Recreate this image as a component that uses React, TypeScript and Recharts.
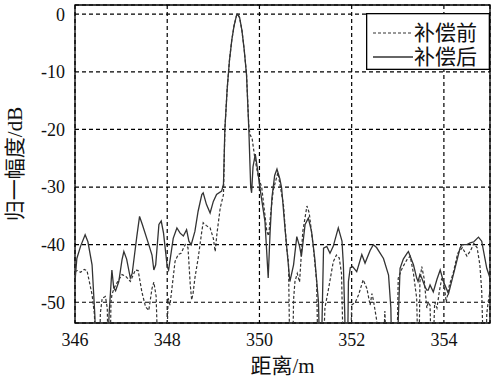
import React from "react";
import { LineChart, Line, XAxis, YAxis, CartesianGrid, ReferenceArea, Legend } from "recharts";

const FONT = "Liberation Serif, Noto Sans CJK SC, serif";
const NUM_FONT = "Liberation Serif";

const xTicks = [346, 348, 350, 352, 354];
const yTicks = [0, -10, -20, -30, -40, -50];
const seriesNames = ["补偿前", "补偿后"];
const xLabel = "距离/m";
const yLabel = "归一幅度/dB";

// main lobe shared by both curves
const lobeX = [349.25, 349.3, 349.35, 349.4, 349.45, 349.5, 349.53, 349.57, 349.62, 349.67, 349.72, 349.77];
const lobeY = [-20, -13, -8, -4.5, -2, -0.3, 0, -0.6, -2.8, -6.2, -10.5, -20];

// 补偿后 (solid)
const afterLeftX = [346.0, 346.04, 346.12, 346.22, 346.28, 346.37, 346.43, 346.46, 346.7, 346.74, 346.77, 346.8, 346.84, 346.88, 346.95, 347.02, 347.06, 347.12, 347.2, 347.24, 347.34, 347.4, 347.46, 347.6, 347.67, 347.71, 347.75, 347.82, 347.87, 347.92, 348.0, 348.03, 348.13, 348.21, 348.28, 348.35, 348.42, 348.47, 348.52, 348.6, 348.67, 348.75, 348.78, 348.85, 348.93, 349.0, 349.07, 349.18, 349.22];
const afterLeftY = [-46.4, -42.4, -40.3, -38.3, -39.5, -43.5, -52.2, -60, -60, -52, -48.2, -44.4, -47.5, -48, -46.4, -42.6, -41.2, -42.5, -45.8, -45, -38.6, -35.1, -36.5, -40, -41.8, -44.4, -43.5, -36.5, -35.9, -38, -43.8, -44.4, -38.9, -37.1, -38, -38.5, -37.4, -39.4, -40, -37.7, -34.2, -31.3, -31, -33, -34.5, -32.5, -31.3, -30.7, -29.5];
const afterRightX = [349.81, 349.83, 349.86, 349.91, 349.96, 350.01, 350.12, 350.19, 350.23, 350.27, 350.33, 350.38, 350.44, 350.48, 350.56, 350.66, 350.74, 350.81, 350.87, 350.91, 350.99, 351.06, 351.13, 351.2, 351.28, 351.31, 351.34, 351.39, 351.46, 351.53, 351.6, 351.71, 351.79, 351.82, 351.85, 351.87, 351.91, 351.93, 351.97, 352.02, 352.11, 352.22, 352.29, 352.4, 352.47, 352.54, 352.69, 352.8, 352.85, 352.87, 352.98, 353.05, 353.12, 353.2, 353.23, 353.34, 353.41, 353.44, 353.48, 353.52, 353.59, 353.63, 353.66, 353.7, 353.77, 353.85, 353.92, 353.99, 354.1, 354.24, 354.35, 354.39, 354.5, 354.57, 354.65, 354.75, 354.82, 354.93, 355.0];
const afterRightY = [-30, -31, -26.5, -24.3, -27, -30.1, -36, -45.8, -38, -31.9, -28, -26.9, -28.5, -30.1, -37.7, -46.4, -43.5, -38.6, -40.3, -42, -36.5, -35.4, -37.7, -42.4, -49.9, -60, -60, -40.6, -40.3, -41.5, -40.3, -37.1, -39.4, -43.5, -52, -60, -60, -46.4, -44, -43.8, -44.7, -41.7, -43.2, -41, -40, -40.5, -42.4, -45.3, -51, -60, -60, -44.1, -42.5, -41.5, -41.2, -43.5, -45.8, -46.4, -45.2, -45.8, -47.3, -47.9, -47.9, -47, -48.2, -46, -44.4, -46.4, -48.5, -44.1, -40.6, -40, -40, -39.7, -39.5, -38.7, -39.4, -44.1, -45.8];

// 补偿前 (dotted)
const beforeLeftX = [346.0, 346.05, 346.12, 346.2, 346.26, 346.3, 346.37, 346.42, 346.46, 346.53, 346.55, 346.59, 346.66, 346.7, 346.72, 346.76, 346.78, 346.8, 346.85, 346.92, 347.02, 347.1, 347.2, 347.31, 347.37, 347.45, 347.53, 347.6, 347.67, 347.71, 347.76, 347.8, 347.98, 348.02, 348.06, 348.17, 348.24, 348.3, 348.39, 348.45, 348.5, 348.53, 348.56, 348.6, 348.67, 348.75, 348.78, 348.85, 348.93, 349.0, 349.04, 349.08, 349.15, 349.22];
const beforeLeftY = [-44.7, -44.5, -44.8, -44.3, -44.5, -46, -48.7, -52, -60, -60, -51.9, -49.3, -49, -51, -60, -60, -50, -48.7, -47.5, -46.5, -45.2, -45.5, -46.4, -44.4, -44.5, -48.2, -50.8, -51.4, -47.6, -46.5, -49, -60, -60, -49.3, -50.5, -42.9, -41.7, -41.5, -40, -40.5, -47, -49.6, -48.5, -45.8, -42.4, -37.7, -36.2, -36.7, -37.1, -38.9, -41.2, -38, -33.6, -31.3];
const beforeRightX = [349.8, 349.84, 349.9, 349.97, 350.05, 350.16, 350.2, 350.24, 350.3, 350.4, 350.52, 350.59, 350.63, 350.66, 350.72, 350.74, 350.77, 350.82, 350.87, 350.94, 351.03, 351.08, 351.17, 351.24, 351.27, 351.38, 351.42, 351.5, 351.6, 351.67, 351.73, 351.78, 351.82, 351.97, 352.0, 352.08, 352.15, 352.25, 352.33, 352.4, 352.44, 352.47, 352.54, 352.6, 352.68, 352.72, 352.76, 352.98, 353.01, 353.1, 353.2, 353.27, 353.34, 353.41, 353.44, 353.46, 353.48, 353.52, 353.57, 353.63, 353.66, 353.7, 353.73, 353.76, 353.8, 353.85, 353.9, 353.95, 354.0, 354.05, 354.12, 354.2, 354.3, 354.4, 354.5, 354.58, 354.65, 354.72, 354.78, 354.82, 354.86, 354.91, 354.93, 354.96, 355.0];
const beforeRightY = [-21, -21.5, -25, -28, -30.1, -37.7, -38.5, -35, -30.5, -27.5, -33, -40.6, -43, -60, -60, -49.5, -46.4, -45, -46.5, -37.7, -33.3, -34.5, -40.6, -46.4, -60, -60, -51, -47.6, -43, -41.8, -42.3, -45, -60, -60, -50.5, -50, -48.7, -46.1, -47.6, -50.5, -48.5, -49.6, -53, -60, -60, -51.5, -60, -60, -45.8, -44, -42.6, -42, -45, -49.3, -60, -60, -46.4, -43.8, -45.8, -51, -50, -50.5, -60, -60, -50, -51, -48.2, -46, -46.5, -50, -47, -45, -41.5, -40.5, -42, -41, -39.8, -40.5, -43.5, -48, -60, -60, -52, -50, -48];

const zip = (xs: number[], ys: number[]) => xs.map((x, i) => ({ x, y: ys[i] }));
const afterData = [...zip(afterLeftX, afterLeftY), ...zip(lobeX, lobeY), ...zip(afterRightX, afterRightY)];
const beforeData = [
  ...zip(beforeLeftX, beforeLeftY),
  ...zip(lobeX.slice(0, -1), lobeY.slice(0, -1)),
  { x: 349.77, y: -19.5 },
  ...zip(beforeRightX, beforeRightY),
];

const renderLegend = () => (
  <svg width={124} height={57} style={{ display: "block" }}>
    <rect x={0.65} y={0.65} width={122.7} height={55.7} fill="#fff" stroke="#000" strokeWidth={1.3} />
    <line x1={7} x2={47} y1={20} y2={20} stroke="#333" strokeWidth={1.2} strokeDasharray="3 2" />
    <text x={48} y={20} dominantBaseline="central" style={{ fontFamily: FONT }} fontSize={21} fill="#111">
      {seriesNames[0]}
    </text>
    <line x1={7} x2={47} y1={44} y2={44} stroke="#333" strokeWidth={1.3} />
    <text x={48} y={44} dominantBaseline="central" style={{ fontFamily: FONT }} fontSize={21} fill="#111">
      {seriesNames[1]}
    </text>
  </svg>
);

const tickStyle = { fill: "#111", fontSize: 18, fontFamily: NUM_FONT, style: { fontFamily: NUM_FONT } };

export default function App() {
  return (
    <div style={{ position: "absolute", left: 0, top: 0, width: 491, height: 380, background: "#fff", fontFamily: FONT }}>
      <LineChart width={491} height={380} margin={{ top: 5, right: 1, bottom: 0, left: 0 }} style={{ fontFamily: FONT }}>
        <CartesianGrid stroke="#000" strokeWidth={1.2} strokeDasharray="4 3" />
        <XAxis
          type="number"
          dataKey="x"
          domain={[346, 355]}
          ticks={xTicks}
          allowDataOverflow
          height={57}
          axisLine={false}
          tickLine={false}
          tickSize={0}
          tickMargin={10}
          tick={tickStyle}
          label={{ value: xLabel, position: "center", dy: 14, fill: "#111", fontSize: 21, style: { fontFamily: FONT } }}
        />
        <YAxis
          type="number"
          domain={[-53.6, 1.6]}
          ticks={yTicks}
          allowDataOverflow
          width={75}
          axisLine={false}
          tickLine={false}
          tickSize={0}
          tickMargin={10}
          tick={tickStyle}
          label={{ value: yLabel, angle: -90, position: "center", dx: -23, fill: "#111", fontSize: 21, style: { fontFamily: FONT } }}
        />
        <ReferenceArea x1={346} x2={355} y1={-53.6} y2={1.6} fill="none" stroke="#000" strokeWidth={1.3} />
        <Line
          data={beforeData}
          dataKey="y"
          name={seriesNames[0]}
          type="linear"
          stroke="#333"
          strokeWidth={1.2}
          strokeDasharray="3 2"
          dot={false}
          activeDot={false}
          isAnimationActive={false}
        />
        <Line
          data={afterData}
          dataKey="y"
          name={seriesNames[1]}
          type="linear"
          stroke="#333"
          strokeWidth={1.3}
          dot={false}
          activeDot={false}
          isAnimationActive={false}
        />
        <Legend
          layout="horizontal"
          verticalAlign="middle"
          align="center"
          content={renderLegend}
          wrapperStyle={{ left: 366, top: 13, width: 124, height: 57 }}
        />
      </LineChart>
    </div>
  );
}
